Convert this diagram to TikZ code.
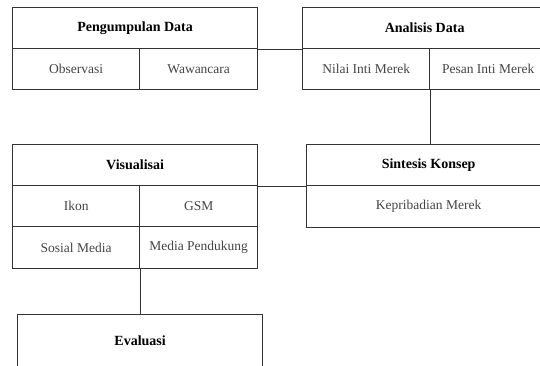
\documentclass[tikz,border=0pt]{standalone}
\usepackage{fontspec}
\setmainfont{Liberation Serif}
\usetikzlibrary{positioning}
\definecolor{garis}{HTML}{333333}
\definecolor{teks}{HTML}{444444}
\tikzset{
	sel/.style={draw=garis, line width=1.3pt, inner sep=0pt, anchor=north west, text=teks, font=\fontsize{13.5}{15}\selectfont},
	judul/.style={sel, text=black, font=\fontsize{14}{16}\selectfont\bfseries},
	hub/.style={draw=garis, line width=1.3pt}
}
\begin{document}
			\begin{tikzpicture}[x=1pt, y=-1pt]
				\clip (0,0) rectangle (540,365);
				% pengumpulan data
				\node[judul, minimum width=245pt, minimum height=41pt] (pd) at (12,7) {Pengumpulan Data};
				\node[sel, minimum width=127pt, minimum height=41pt] (obs) at (12,48) {Observasi};
				\node[sel, minimum width=118pt, minimum height=41pt] (waw) at (139,48) {Wawancara};
				% analisis data
				\node[judul, minimum width=244pt, minimum height=41pt] (ad) at (302,7) {Analisis Data};
				\node[sel, minimum width=127pt, minimum height=41pt] (nilai) at (302,48) {Nilai Inti Merek};
				\node[sel, minimum width=117pt, minimum height=41pt] (pesan) at (429,48) {Pesan Inti Merek};
				% sintesis konsep
				\node[judul, minimum width=244pt, minimum height=41pt] (sk) at (306,144) {Sintesis Konsep};
				\node[sel, minimum width=244pt, minimum height=42pt] (kep) at (306,185) {Kepribadian Merek};
				% visualisasi
				\node[judul, minimum width=245pt, minimum height=41pt] (vis) at (12,144) {Visualisai};
				\node[sel, minimum width=127pt, minimum height=41pt] (ikon) at (12,185) {Ikon};
				\node[sel, minimum width=118pt, minimum height=41pt] (gsm) at (139,185) {GSM};
				\node[sel, minimum width=127pt, minimum height=42pt] (sosial) at (12,226) {Sosial Media};
				\node[sel, minimum width=118pt, minimum height=42pt] (media) at (139,226) {Media Pendukung};
				% evaluasi
				\node[judul, minimum width=245pt, minimum height=52pt] (eval) at (17,314) {Evaluasi};
				\begin{scope}[hub]
					\draw (pd.south east) -- (ad.south west);
					\draw (nilai.south east) -- (nilai.south east |- sk.north);
					\draw (vis.south east) -- (sk.south west);
					\draw (sosial.south east) -- (sosial.south east |- eval.north);
				\end{scope}
			\end{tikzpicture}
\end{document}
